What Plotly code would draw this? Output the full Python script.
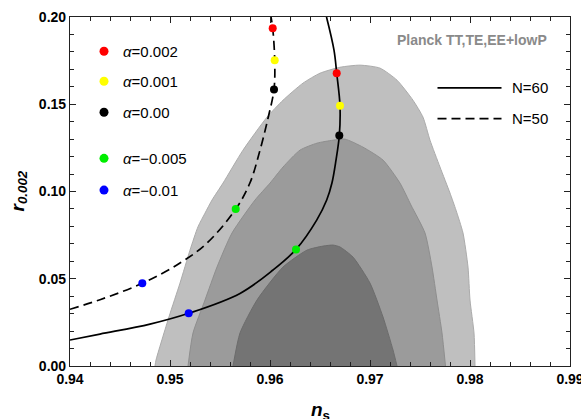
import plotly.graph_objects as go

# ---- Planck contours (ns, r) ----
outer_ns = [0.9485, 0.9486, 0.9499, 0.9510, 0.9520, 0.9528, 0.9535, 0.9542, 0.9553, 0.9573,
            0.9597, 0.9613, 0.9633, 0.9650, 0.9670, 0.9690, 0.9710, 0.9727, 0.9743, 0.9753,
            0.9760, 0.9770, 0.9780, 0.9786, 0.9793, 0.9798, 0.9800, 0.9804, 0.9805]
outer_r = [0.0, 0.0034, 0.0282, 0.0475, 0.0664, 0.0798, 0.0876, 0.0951, 0.1048, 0.1237,
           0.1426, 0.1523, 0.1621, 0.1678, 0.1712, 0.1724, 0.1707, 0.1638, 0.1523, 0.1426,
           0.1294, 0.1140, 0.0991, 0.0893, 0.0762, 0.0567, 0.0378, 0.0189, 0.0]

mid_ns = [0.9518, 0.9523, 0.9535, 0.9547, 0.9562, 0.9585, 0.9600, 0.9613, 0.9630, 0.9647,
          0.9663, 0.9675, 0.9693, 0.9713, 0.9730, 0.9741, 0.9755, 0.9762, 0.9767, 0.9772, 0.97755]
mid_r = [0.0, 0.0189, 0.0378, 0.0567, 0.0762, 0.0951, 0.1048, 0.1140, 0.1237, 0.1277,
         0.1294, 0.1300, 0.1254, 0.1180, 0.1048, 0.0922, 0.0762, 0.0567, 0.0378, 0.0189, 0.0]

inner_ns = [0.9563, 0.9570, 0.9587, 0.9613, 0.9637, 0.9653, 0.9663, 0.9670, 0.9683, 0.9700,
            0.9713, 0.9723, 0.9727]
inner_r = [0.0, 0.0189, 0.0378, 0.0567, 0.0664, 0.0687, 0.0693, 0.0682, 0.0624, 0.0475,
           0.0281, 0.0092, 0.0]

# ---- model curves ----
n60_ns = [0.9400, 0.9430, 0.9480, 0.95187, 0.9570, 0.9603, 0.9626, 0.96467,
          0.96567, 0.9662, 0.9666, 0.96693, 0.96700, 0.96667, 0.9664, 0.96565]
n60_r = [0.0149, 0.0183, 0.0240, 0.0302, 0.0416, 0.0550, 0.0668, 0.0836,
         0.0951, 0.1050, 0.1180, 0.1321, 0.1491, 0.1678, 0.1810, 0.2000]

n50_ns = [0.9400, 0.9430, 0.94723, 0.95100, 0.95367, 0.95657, 0.95800, 0.9590, 0.9598,
          0.9604, 0.96047, 0.96027, 0.9601]
n50_r = [0.0325, 0.0380, 0.0474, 0.0590, 0.0703, 0.0899, 0.1050, 0.1237, 0.1420,
         0.1585, 0.1752, 0.1936, 0.2000]

# ---- alpha points ----
alpha_labels = ["<i>α</i>=0.002", "<i>α</i>=0.001", "<i>α</i>=0.00", "<i>α</i>=−0.005", "<i>α</i>=−0.01"]
alpha_colors = ["#ff0000", "#ffff00", "#000000", "#00ee00", "#0000ff"]
n60_dot_ns = [0.96667, 0.96700, 0.96693, 0.9626, 0.95187]
n60_dot_r = [0.1678, 0.1491, 0.1321, 0.0668, 0.0302]
n50_dot_ns = [0.96027, 0.96047, 0.9604, 0.95657, 0.94723]
n50_dot_r = [0.1936, 0.1752, 0.1585, 0.0899, 0.0474]

x_ticks = [0.94, 0.95, 0.96, 0.97, 0.98, 0.99]
y_ticks = [0.00, 0.05, 0.10, 0.15, 0.20]

FONT = "Liberation Sans, Arial, sans-serif"

fig = go.Figure()

for xs, ys, fc, lc in [(outer_ns, outer_r, "#bfbfbf", "#ababab"),
                       (mid_ns, mid_r, "#9b9b9b", "#8e8e8e"),
                       (inner_ns, inner_r, "#747474", "#6c6c6c")]:
    fig.add_trace(go.Scatter(x=xs, y=ys, mode="lines", fill="toself", fillcolor=fc,
                             line=dict(color=lc, width=1, shape="spline", smoothing=0.6),
                             hoverinfo="skip", showlegend=False))

fig.add_trace(go.Scatter(x=n60_ns, y=n60_r, mode="lines",
                         line=dict(color="black", width=1.7, shape="spline", smoothing=1.0),
                         showlegend=False))
fig.add_trace(go.Scatter(x=n50_ns, y=n50_r, mode="lines",
                         line=dict(color="black", width=1.7, dash="9px,5px", shape="spline", smoothing=1.0),
                         showlegend=False))

for i in range(len(alpha_labels)):
    fig.add_trace(go.Scatter(x=[n60_dot_ns[i], n50_dot_ns[i]], y=[n60_dot_r[i], n50_dot_r[i]],
                             mode="markers", marker=dict(color=alpha_colors[i], size=8),
                             cliponaxis=False, showlegend=False))

# ---- custom legend (overlay axes in [0,1]) ----
leg_y = [0.902, 0.816, 0.727, 0.595, 0.504]
fig.add_trace(go.Scatter(x=[0.068] * len(leg_y), y=leg_y, xaxis="x2", yaxis="y2", mode="markers",
                         marker=dict(color=alpha_colors, size=9), showlegend=False, hoverinfo="skip"))
fig.add_trace(go.Scatter(x=[0.735, 0.863], y=[0.797, 0.797], xaxis="x2", yaxis="y2", mode="lines",
                         line=dict(color="black", width=1.8), showlegend=False, hoverinfo="skip"))
fig.add_trace(go.Scatter(x=[0.735, 0.863], y=[0.709, 0.709], xaxis="x2", yaxis="y2", mode="lines",
                         line=dict(color="black", width=1.8, dash="9px,5px"), showlegend=False, hoverinfo="skip"))

annotations = []
for lab, yy in zip(alpha_labels, leg_y):
    annotations.append(dict(x=0.102, y=yy, xref="paper", yref="paper", text=lab, showarrow=False,
                            xanchor="left", yanchor="middle", font=dict(family=FONT, size=15, color="black")))
for lab, yy in [("N=60", 0.797), ("N=50", 0.709)]:
    annotations.append(dict(x=0.879, y=yy, xref="paper", yref="paper", text=lab, showarrow=False,
                            xanchor="left", yanchor="middle", font=dict(family=FONT, size=15, color="black")))
annotations.append(dict(x=0.958, y=0.934, xref="paper", yref="paper", text="<b>Planck TT,TE,EE+lowP</b>",
                        showarrow=False, xanchor="right", yanchor="middle",
                        font=dict(family=FONT, size=14, color="#8a8a8a")))
# axis titles
annotations.append(dict(x=0.5, y=-0.128, xref="paper", yref="paper", text="<b><i>n</i><sub>s</sub></b>",
                        showarrow=False, xanchor="center", yanchor="middle",
                        font=dict(family=FONT, size=19, color="black")))
annotations.append(dict(x=-0.104, y=0.5, xref="paper", yref="paper", text="<b><i>r</i><sub><i>0.002</i></sub></b>",
                        showarrow=False, xanchor="center", yanchor="middle", textangle=-90,
                        font=dict(family=FONT, size=19, color="black")))

axis_common = dict(showline=True, linecolor="#222", linewidth=1.2, mirror="ticks", ticks="inside",
                   ticklen=6, tickwidth=1.2, tickcolor="#222", showgrid=False, zeroline=False,
                   automargin=False, ticklabeloverflow="allow",
                   tickfont=dict(family=FONT, size=14, color="black"))

fig.update_layout(
    width=581, height=419,
    margin=dict(l=70, r=11, t=17, b=53),
    plot_bgcolor="white", paper_bgcolor="white",
    font=dict(family=FONT),
    showlegend=False,
    xaxis=dict(range=[0.94, 0.99], tickvals=x_ticks,
               ticktext=[f"<b>{v:.2f}</b>" for v in x_ticks],
               minor=dict(dtick=0.002, ticks="inside", ticklen=3.5, tickcolor="#222", showgrid=False),
               **axis_common),
    yaxis=dict(range=[0, 0.2], tickvals=y_ticks,
               ticktext=[f"<b>{v:.2f}</b>" for v in y_ticks],
               minor=dict(dtick=0.01, ticks="inside", ticklen=3.5, tickcolor="#222", showgrid=False),
               **axis_common),
    xaxis2=dict(overlaying="x", range=[0, 1], visible=False, fixedrange=True, automargin=False),
    yaxis2=dict(overlaying="y", range=[0, 1], visible=False, fixedrange=True, automargin=False),
    annotations=annotations,
)

fig.write_html("out.html", config={"displayModeBar": False},
               post_script="document.body.style.margin='0px';")
